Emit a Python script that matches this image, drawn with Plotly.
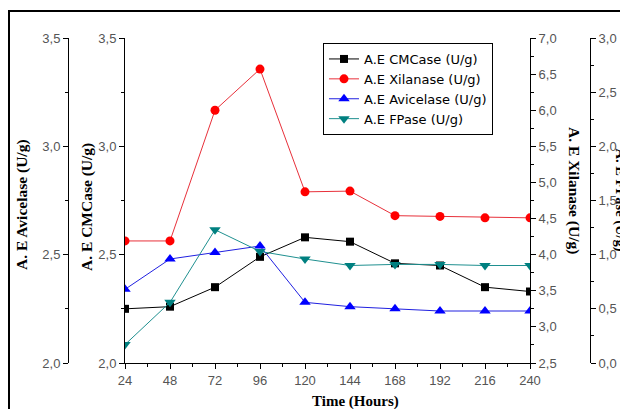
import plotly.graph_objects as go

time_h = [24, 48, 72, 96, 120, 144, 168, 192, 216, 240]
cmcase = [2.25, 2.26, 2.35, 2.49, 2.58, 2.56, 2.46, 2.45, 2.35, 2.33]
xilanase = [4.19, 4.19, 6.00, 6.57, 4.87, 4.88, 4.54, 4.53, 4.51, 4.51]
avicelase = [2.34, 2.48, 2.51, 2.54, 2.28, 2.26, 2.25, 2.24, 2.24, 2.24]
fpase = [0.17, 0.56, 1.23, 1.03, 0.96, 0.90, 0.91, 0.91, 0.90, 0.90]

OFF = 8  # browser body margin
W, H = 628 - OFF, 409 - OFF
L_PX, R_PX, T_PX, B_PX = 125 - OFF, 530 - OFF, 38 - OFF, 363 - OFF

def px_x(p):
    return (p - OFF) / W

def px_y(p):
    return (B_PX - (p - OFF)) / (B_PX - T_PX)

fig = go.Figure()
fig.add_trace(go.Scatter(x=time_h, y=cmcase, name="A.E CMCase (U/g)", yaxis="y",
                         mode="lines+markers", line=dict(color="black", width=1),
                         marker=dict(symbol="square", size=8, color="black")))
fig.add_trace(go.Scatter(x=time_h, y=xilanase, name="A.E Xilanase (U/g)", yaxis="y3",
                         mode="lines+markers", line=dict(color="#e8303a", width=1),
                         marker=dict(symbol="circle", size=9, color="#ff0000")))
fig.add_trace(go.Scatter(x=time_h, y=avicelase, name="A.E Avicelase (U/g)", yaxis="y2",
                         mode="lines+markers", line=dict(color="#2020e0", width=1),
                         marker=dict(symbol="triangle-up", size=10, color="#0000ff")))
fig.add_trace(go.Scatter(x=time_h, y=fpase, name="A.E FPase (U/g)", yaxis="y4",
                         mode="lines+markers", line=dict(color="#1f9090", width=1),
                         marker=dict(symbol="triangle-down", size=10, color="#008080")))

tickfont = dict(family="Liberation Sans, Arial", size=13, color="#555555")
common_y = dict(showgrid=False, zeroline=False, showline=True, linecolor="black", linewidth=1,
                ticks="outside", ticklen=5, tickcolor="black", tickformat=".1f",
                tickfont=tickfont, dtick=0.5,
                minor=dict(ticks="outside", ticklen=3, dtick=0.25, tickcolor="black", showgrid=False))

fig.update_layout(
    width=W, height=H,
    margin=dict(l=0, r=0, t=T_PX, b=H - B_PX, autoexpand=False),
    paper_bgcolor="white", plot_bgcolor="white",
    separators=",.",
    showlegend=True,
    legend=dict(x=px_x(323), y=px_y(43), xanchor="left", yanchor="top",
                bordercolor="black", borderwidth=1, bgcolor="white",
                font=dict(family="DejaVu Sans", size=13, color="black"),
                tracegroupgap=0, itemwidth=30),
    xaxis=dict(domain=[L_PX / W, R_PX / W], range=[24, 240], tickvals=time_h,
               showgrid=False, zeroline=False, showline=True, linecolor="black",
               ticks="outside", ticklen=5, tickcolor="black", tickfont=tickfont,
               minor=dict(ticks="outside", ticklen=3, dtick=12, tick0=24, tickcolor="black", showgrid=False),
               anchor="y"),
    yaxis=dict(range=[2, 3.5], tick0=2, side="left", anchor="x", **common_y),
    yaxis2=dict(range=[2, 3.5], tick0=2, side="left", anchor="free", overlaying="y",
                position=px_x(68), **common_y),
    yaxis3=dict(range=[2.5, 7.0], tick0=2.5, side="right", anchor="x", overlaying="y", **common_y),
    yaxis4=dict(range=[0, 3.0], tick0=0, side="right", anchor="free", overlaying="y",
                position=px_x(590), **common_y),
)

title_font = dict(family="Liberation Serif, Times New Roman", size=15.5, color="black")
annots = [
    dict(text="<b>A. E Avicelase (U/g)</b>", x=px_x(22), y=px_y(205), textangle=-90, size=15.5),
    dict(text="<b>A. E CMCase (U/g)</b>", x=px_x(87), y=px_y(207), textangle=-90, size=15.5),
    dict(text="<b>A. E Xilanase (U/g)</b>", x=px_x(574), y=px_y(190), textangle=90, size=15.5),
    dict(text="<b>A. E FPase (U/g)</b>", x=px_x(620.5), y=px_y(200), textangle=90, size=14.5),
    dict(text="<b>Time (Hours)</b>", x=px_x(355), y=px_y(401), textangle=0, size=15),
]
for a in annots:
    size = a.pop("size")
    fig.add_annotation(xref="paper", yref="paper", showarrow=False,
                       font=dict(title_font, size=size),
                       xanchor="center", yanchor="middle", **a)

fig.add_shape(type="rect", xref="paper", yref="paper",
              x0=px_x(9), x1=px_x(650), y0=px_y(430), y1=px_y(11),
              line=dict(color="black", width=2), fillcolor="rgba(0,0,0,0)", layer="below")

fig.write_html("out.html")
